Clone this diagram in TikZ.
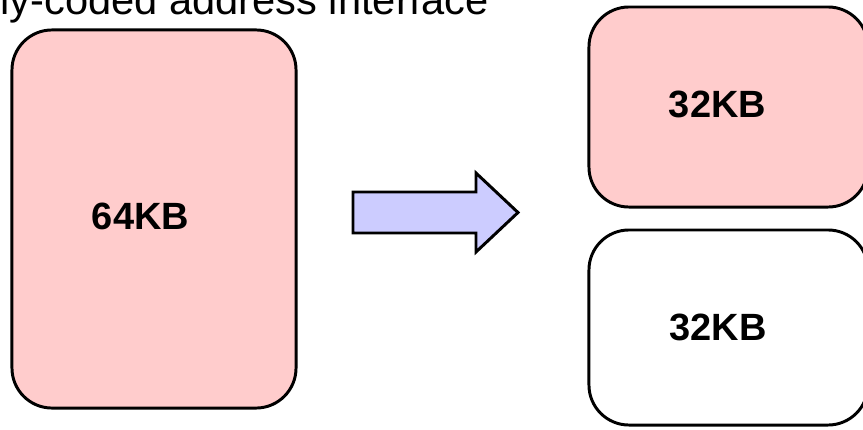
\documentclass[tikz,border=0pt]{standalone}
\usepackage{fontspec}
\setmainfont{Liberation Sans}
\definecolor{pinkfill}{HTML}{FFCCCC}
\definecolor{arrowfill}{HTML}{CCCCFF}
\begin{document}
\begin{tikzpicture}[x=0.025cm,y=-0.025cm,line width=2.1pt,
	membox/.style={draw=black,rounded corners=1cm,inner sep=0pt},
	lbl/.style={font=\fontsize{27}{32}\selectfont\bfseries,inner sep=0pt},
	bigarrow/.style={draw=black,fill=arrowfill,line join=miter}]
	\useasboundingbox (0,0) rectangle (863,429);
	\clip (0,0) rectangle (863,429);
	\node[anchor=base west,inner sep=0pt,font=\fontsize{29.6}{35}\selectfont] (title) at (-1,14) {ly-coded address interface};
	% 64KB block
	\node[membox,fill=pinkfill,minimum width=7.1cm,minimum height=9.45cm] (mem) at (154,219) {};
	\node[lbl] (memlbl) at (140.5,216.5) {64KB};
	% split into two halves
	\node[membox,fill=pinkfill,minimum width=6.975cm,minimum height=5cm] (upper) at (728.5,107) {};
	\node[lbl] (upperlbl) at (717.5,104.5) {32KB};
	\node[membox,fill=white,minimum width=6.975cm,minimum height=4.875cm] (lower) at (728.5,327.5) {};
	\node[lbl] (lowerlbl) at (718,327.5) {32KB};
	\draw[bigarrow] (353,192)--(476,192)--(476,173)--(518,212.5)--(476,252)--(476,233)--(353,233)--cycle;
\end{tikzpicture}
\end{document}
